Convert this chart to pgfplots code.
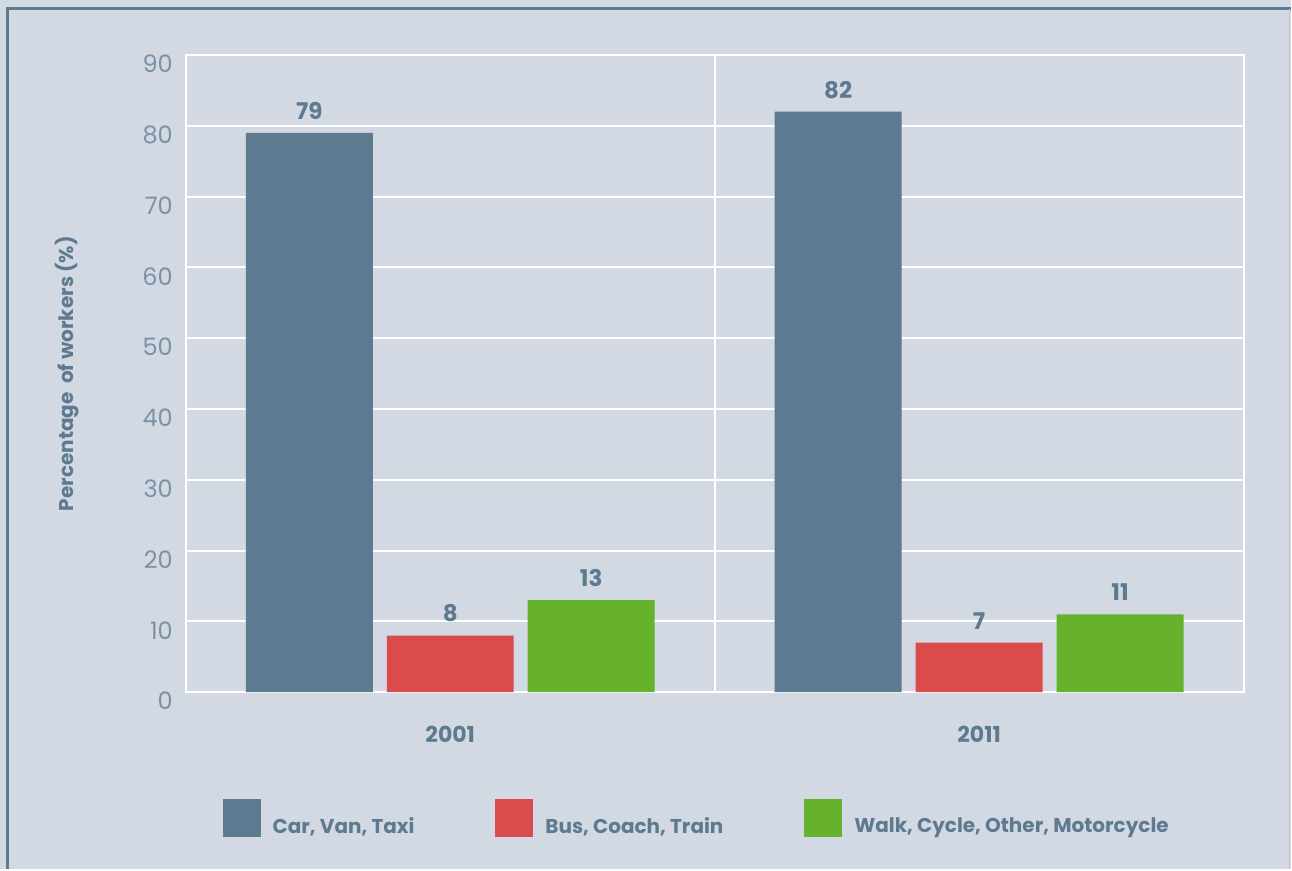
\documentclass[border=0pt]{standalone}
\usepackage{pgfplots}
\pgfplotsset{compat=1.18}
\usepackage{fontspec}
\setmainfont{Poppins}
\definecolor{bgc}{HTML}{D3D9E3}
\definecolor{slate}{HTML}{5E7A90}
\definecolor{redb}{HTML}{DC4B4B}
\definecolor{greenb}{HTML}{67B22C}
\definecolor{tickc}{HTML}{7B92A6}
\begin{document}
\begin{tikzpicture}
\fill[bgc] (0,0) rectangle (646pt,435pt);
\draw[slate, line width=1.5pt] (3.75pt,0) -- (3.75pt,430.5pt) -- (646pt,430.5pt);
\draw[gray!45, line width=0.5pt] (645.6pt,0) -- (645.6pt,430.5pt);
\begin{axis}[
  at={(93pt,88.5pt)}, anchor=south west,
  scale only axis, width=529.5pt, height=319pt,
  xmin=-0.5, xmax=1.5, ymin=0, ymax=90,
  ybar, bar width=0.24,
  xtick={0,1}, xticklabels={2001,2011},
  ytick={0,10,...,90},
  major tick length=0pt,
  axis line style={white, line width=1pt},
  ymajorgrids, grid style={white, line width=1pt},
  /pgf/number format/assume math mode=true,
  yticklabel style={font=\fontsize{12}{14}\selectfont, text=tickc, xshift=-3pt, yshift=-4.5pt},
  xticklabel style={font=\bfseries\fontsize{11}{13}\selectfont, text=slate, yshift=-13.5pt},
  ylabel={Percentage\ \ of workers (\%)},
  ylabel style={at={(axis description cs:-0.112,0.5)}, anchor=center, font=\bfseries\fontsize{10}{12}\selectfont, text=slate},
  nodes near coords,
  every node near coord/.append style={font=\bfseries\fontsize{11.5}{13}\selectfont, text=slate, anchor=center, yshift=11pt},
  legend columns=3,
  legend style={at={(axis description cs:0.0349,-0.1677)}, anchor=north west, draw=none, fill=none, inner sep=0pt, outer sep=0pt,
    font=\bfseries\fontsize{10}{12}\selectfont, text=slate,
    nodes={inner sep=0pt},
    /tikz/every odd column/.append style={column sep=6pt},
    /tikz/every even column/.append style={column sep=40.5pt}},
  legend image code/.code={\fill[#1] (0pt,-5pt) rectangle (19pt,14pt);},
]
\addplot[fill=slate, draw=none, bar shift=-0.2665] coordinates {(0,79) (1,82)};
\addplot[fill=redb, draw=none, bar shift=0] coordinates {(0,8) (1,7)};
\addplot[fill=greenb, draw=none, bar shift=0.2665] coordinates {(0,13) (1,11)};
\draw[white, line width=1pt] (axis cs:0.5,0) -- (axis cs:0.5,90);
\legend{Car{,} Van{,} Taxi, Bus{,} Coach{,} Train, Walk{,} Cycle{,} Other{,} Motorcycle}
\end{axis}
\end{tikzpicture}
\end{document}
